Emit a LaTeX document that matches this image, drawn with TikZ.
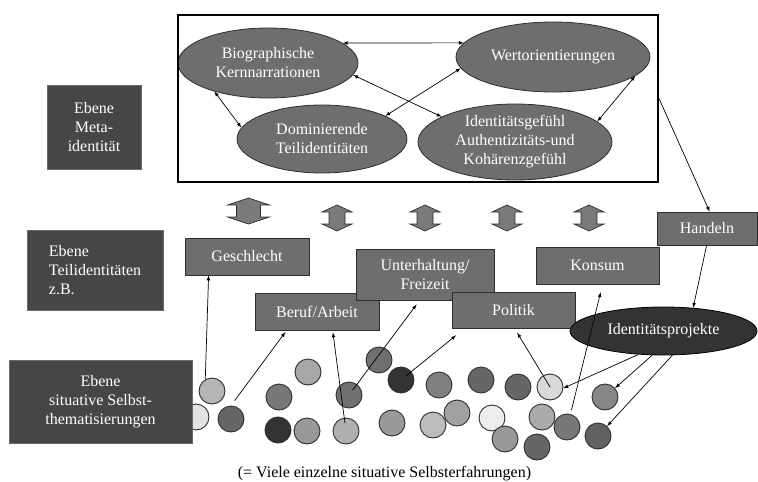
\documentclass[tikz,border=0pt]{standalone}
\usepackage{fontspec}
\setmainfont{Liberation Serif}
\usetikzlibrary{shapes.geometric,arrows}
\definecolor{labelgray}{HTML}{464646}
\definecolor{boxgray}{HTML}{6E6E6E}
\definecolor{edgegray}{HTML}{2E2E2E}
\definecolor{projgray}{HTML}{333333}
\definecolor{fatgray}{HTML}{7A7A7A}
\tikzstyle{ebene} = [rectangle, fill=labelgray, draw=labelgray!80, text=white, inner sep=0pt]
\tikzstyle{teil} = [rectangle, fill=boxgray, draw=edgegray, line width=0.8pt, text=white, align=center, inner sep=0pt]
\tikzstyle{kern} = [ellipse, fill=boxgray, draw=edgegray, line width=0.8pt, text=white, align=center, inner sep=0pt]
\tikzstyle{projekt} = [ellipse, fill=projgray, draw=black, line width=0.8pt, text=white, inner sep=0pt]
\tikzstyle{blob} = [circle, minimum size=26pt, inner sep=0pt, draw=edgegray, line width=0.9pt]
\tikzstyle{fat} = [fill=fatgray, draw=edgegray, line width=0.7pt]
\tikzstyle{arrow} = [line width=0.7pt,->,>=latex]
\tikzstyle{twoway} = [line width=0.7pt,<->,>=latex]

\begin{document}
\begin{tikzpicture}[x=1pt, y=-1pt, every node/.style={font=\fontsize{16}{19}\selectfont}]
\useasboundingbox (0,0) rectangle (758,482);

% situative Selbsterfahrungen
\foreach \n/\x/\y/\g in {1/212/391/29, 2/196/417/11, 3/231/419/60, 4/308/372/34, 5/279/397/53,
  6/278/430/80, 7/307/431/40, 8/379/360/56, 9/349/395/56, 10/346/431/31, 11/401/380/80,
  12/392/423/40, 13/439/385/50, 14/433/425/26, 15/457/413/37, 16/481/380/60, 17/518/387/60,
  18/550/387/15, 19/492/418/7, 20/542/417/33, 21/567/427/53, 22/505/439/40, 23/537/447/60,
  24/605/397/47, 25/598/436/62}
  \node[blob, fill=black!\g] (c\n) at (\x,\y) {};

% Ebenen
\node(metalabel) [ebene, minimum width=94pt, minimum height=84pt, align=center] at (94,127) {Ebene\\Meta-\\identität};
\node(teillabel) [ebene, minimum width=136pt, minimum height=80pt, align=left] at (95,270) {Ebene\\Teilidentitäten\\z.B.};
\node(situlabel) [ebene, minimum width=183pt, minimum height=83pt, align=center] at (100.5,401.5) {Ebene\\situative Selbst-\\thematisierungen};

% Metaidentitaet
\node(bio) [kern, minimum width=180pt, minimum height=70pt] at (268,63) {Biographische\\Kernnarrationen};
\node(wert) [kern, minimum width=194pt, minimum height=70pt] at (553,57) {Wertorientierungen};
\node(dom) [kern, minimum width=170pt, minimum height=68pt] at (322,139) {Dominierende\\Teilidentitäten};
\node(gefuehl) [kern, minimum width=194pt, minimum height=76pt] at (515,142) {Identitätsgefühl\\Authentizitäts-und\\Kohärenzgefühl};
\node(meta) [draw, line width=2pt, minimum width=480pt, minimum height=167pt, inner sep=0pt] at (418,98.5) {};

\draw [twoway] (bio.15) -- (wert.171);
\draw [twoway] (bio.-152) -- (dom.172);
\draw [twoway] (bio.-8) -- (gefuehl.161);
\draw [twoway] (dom.20) -- (wert.-173);
\draw [twoway] (wert.-13) -- (gefuehl.14);

% Wechselwirkung
\foreach \x/\y/\W/\w in {248.5/211/21/12, 337/218/15/8, 425/218/15/8, 507/218/15/8, 589/218/15/8}
  \draw[fat] (\x,\y-13) -- (\x+\W,\y-6) -- (\x+\w,\y-6) -- (\x+\w,\y+6) -- (\x+\W,\y+6) -- (\x,\y+13)
    -- (\x-\W,\y+6) -- (\x-\w,\y+6) -- (\x-\w,\y-6) -- (\x-\W,\y-6) -- cycle;

% Teilidentitaeten
\node(geschlecht) [teil, minimum width=124pt, minimum height=37pt] at (247,256.5) {Geschlecht};
\node(beruf) [teil, minimum width=124pt, minimum height=37pt] at (317,311.5) {Beruf/Arbeit};
\node(freizeit) [teil, minimum width=138pt, minimum height=51pt] at (425,274.5) {Unterhaltung/\\Freizeit};
\node(politik) [teil, minimum width=123pt, minimum height=36pt] at (513.5,310) {Politik};
\node(konsum) [teil, minimum width=123pt, minimum height=37pt] at (597.5,265.5) {Konsum};
\node(handeln) [teil, minimum width=100pt, minimum height=33pt] at (707,228.5) {Handeln};
\node(projekte) [projekt, minimum width=187pt, minimum height=48pt] at (663.5,331) {Identitätsprojekte};

\draw [arrow] (c1.120) -- ([xshift=24pt]geschlecht.south west);
\draw [arrow, shorten <=6pt, shorten >=2pt] (c3.north) -- ([xshift=32pt]beruf.south west);
\draw [arrow, shorten <=8pt, shorten >=2pt] (c10.center) -- ([xshift=78pt]beruf.south west);
\draw [arrow, shorten <=6pt, shorten >=5pt] (c9.center) -- ([xshift=64pt]freizeit.south west);
\draw [arrow, shorten <=6pt, shorten >=11pt] (c11.center) -- ([xshift=13pt]politik.south west);
\draw [arrow, shorten >=5pt] (c18.center) -- ([xshift=63pt]politik.south west);
\draw [arrow, shorten <=4pt, shorten >=8pt] (c21.75) -- ([xshift=67pt]konsum.south west);
\draw [arrow] (meta.east) -- ([xshift=53pt]handeln.north west);
\draw [arrow] ([xshift=50pt]handeln.south west) -- (projekte.38);
\draw [arrow] (projekte.-137) -- (c18.-5);
\draw [arrow] (projekte.-115) -- (c24);
\draw [arrow] (projekte.-70) -- (c25);

\node(caption) [anchor=base] at (384.5,477) {(= Viele einzelne situative Selbsterfahrungen)};
\end{tikzpicture}
\end{document}
